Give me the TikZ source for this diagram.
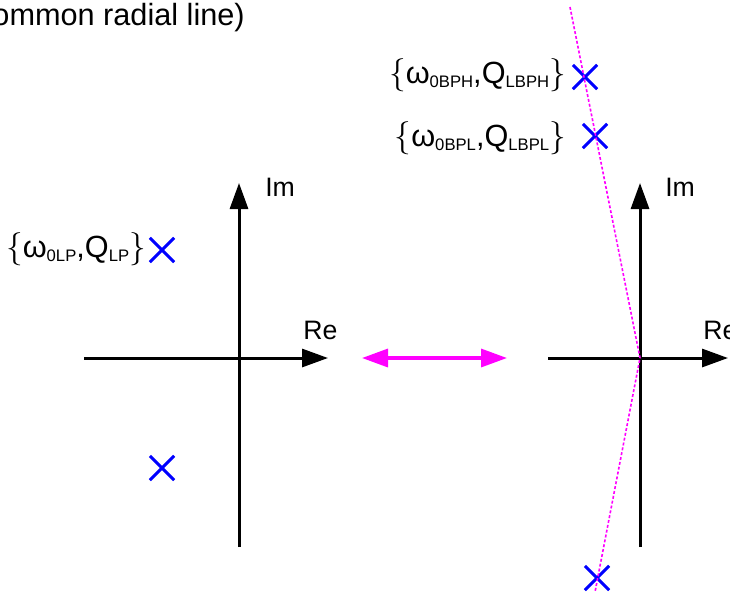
\documentclass[tikz,border=0pt]{standalone}
\usepackage{fontspec}
\setmainfont{Liberation Sans}
\usetikzlibrary{arrows.meta,shapes.misc,positioning}
\definecolor{polebl}{RGB}{0,0,255}
\definecolor{radmag}{RGB}{255,0,255}
\newcommand{\polesub}[1]{\raisebox{-3.5pt}{\fontsize{12.5}{12}\selectfont #1}}
\tikzset{
  axis/.style={line width=2.25pt,-{Triangle[length=19.5pt,width=13.5pt]}},
  pole/.style={cross out,draw=polebl,line width=2.2pt,minimum size=16pt,inner sep=0pt},
  polelbl/.style={font=\fontsize{23}{26}\selectfont,inner sep=0pt,anchor=base east},
  axlbl/.style={font=\fontsize{20}{24}\selectfont,inner sep=0pt,anchor=base west},
  radial/.style={radmag,line width=1.2pt,dash pattern=on 2.2pt off 1.5pt},
}
\begin{document}
\begin{tikzpicture}[x=0.75pt,y=-0.75pt]
  \useasboundingbox (0,0) rectangle (730,597);
  \clip (0,0) rectangle (730,597);
  % Title (cut off at the left)
  \node[font=\fontsize{23}{26}\selectfont,inner sep=0pt,anchor=base east] (title) at (245,25) {ommon radial line)};
  % Left s-plane
  \coordinate (lo) at (239,358);
  \coordinate (lw) at (84,358);
  \coordinate (le) at (328,358);
  \coordinate (ls) at (239,547);
  \coordinate (ln) at (239,183);
  \draw[axis] (lw) -- (le);
  \draw[axis] (ls) -- (ln);
  \node[axlbl] (lim) at (265,196) {Im};
  \node[axlbl] (lre) at (303,339) {Re};
  \node[pole] (lp) at (162,250) {};
  \node[pole] (lpc) at (162,468) {};
  \node[polelbl] (lplbl) at (146,257) {$\{$ω\polesub{0LP},Q\polesub{LP}$\}$};
  % Double arrow
  \coordinate (ma) at (362,358);
  \coordinate (mb) at (507,358);
  \draw[radmag,line width=2.5pt,{Triangle[length=19.5pt,width=13.5pt]}-{Triangle[length=19.5pt,width=13.5pt]}] (ma) -- (mb);
  % Right s-plane
  \coordinate (ro) at (640,358);
  \coordinate (rw) at (548,358);
  \coordinate (re) at (728,358);
  \coordinate (rs) at (640,547);
  \coordinate (rn) at (640,183);
  \draw[axis] (rw) -- (re);
  \draw[axis] (rs) -- (rn);
  \node[axlbl] (rim) at (665,196) {Im};
  \node[axlbl] (rre) at (703,339) {Re};
  \node[pole] (rph) at (585,77) {};
  \node[pole] (rpl) at (595,136) {};
  \node[pole] (rplc) at (597,578) {};
  \node[polelbl] (rphlbl) at (566,83) {$\{$ω\polesub{0BPH},Q\polesub{LBPH}$\}$};
  \node[polelbl] (rpllbl) at (566,146) {$\{$ω\polesub{0BPL},Q\polesub{LBPL}$\}$};
  % Common radial line
  \coordinate (rtop) at (570,7);
  \coordinate (rbot) at (595,592);
  \draw[radial] (rtop) -- (ro) -- (rbot);
\end{tikzpicture}
\end{document}
